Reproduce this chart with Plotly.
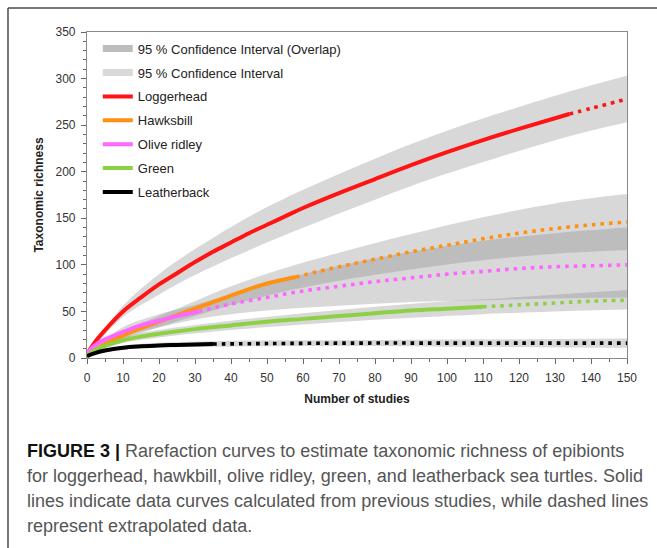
import plotly.graph_objects as go

# ---------------- data ----------------
log_x = [0, 2, 5, 10, 15, 20, 25, 30, 35, 40, 45, 50, 55, 60, 70, 80, 90, 100, 110, 120, 134]
log_y = [4, 16, 30, 50, 65, 79, 91, 103, 114, 124, 134, 143, 152, 161, 177, 192, 207, 221, 234, 246, 262]
log_ex_x = [134, 140, 150]
log_ex_y = [262, 268, 278]
log_ci_x = [0, 10, 20, 30, 50, 80, 100, 134, 150]
log_ci_hi = [4, 56, 90, 117, 162, 214, 244, 286, 303]
log_ci_lo = [4, 44, 68, 89, 124, 170, 198, 238, 253]

hawk_x = [0, 2, 5, 10, 15, 20, 25, 30, 35, 40, 45, 50, 58]
hawk_y = [3, 8, 15, 24, 32, 39, 46, 53, 60, 67, 74, 80, 87]
hawk_ex_x = [58, 70, 80, 90, 100, 110, 120, 130, 140, 150]
hawk_ex_y = [87, 98, 106, 114, 121, 128, 134, 139, 143, 146]
hawk_ci_x = [0, 10, 20, 30, 40, 58, 70, 90, 110, 130, 150]
hawk_ci_hi = [3, 28, 45, 61, 77, 100, 113, 133, 151, 166, 176]
hawk_ci_lo = [3, 20, 33, 45, 57, 74, 83, 95, 105, 112, 116]

olive_x = [0, 2, 5, 10, 15, 20, 25, 31]
olive_y = [5, 13, 20, 28, 35, 40, 45, 50]
olive_ex_x = [31, 40, 50, 60, 70, 80, 90, 100, 110, 120, 130, 140, 150]
olive_ex_y = [50, 58, 65, 72, 77, 82, 86, 90, 93, 96, 98, 99, 100]
olive_ci_x = [0, 10, 20, 31, 50, 70, 90, 110, 130, 150]
olive_ci_hi = [5, 33, 47, 58, 80, 99, 114, 126, 134, 140]
olive_ci_lo = [5, 23, 33, 42, 51, 56, 60, 62, 64, 65]

green_x = [0, 2, 5, 10, 15, 20, 30, 40, 50, 60, 70, 80, 90, 100, 110]
green_y = [3, 8, 13, 19, 23, 26, 31, 35, 39, 42, 45, 48, 51, 53, 55]
green_ex_x = [110, 120, 130, 140, 150]
green_ex_y = [55, 57, 59, 61, 62]
green_ci_x = [0, 10, 20, 40, 60, 80, 100, 110, 130, 150]
green_ci_hi = [3, 22, 30, 40, 48, 55, 61, 63, 68, 73]
green_ci_lo = [3, 16, 22, 30, 36, 41, 45, 47, 50, 52]

leath_x = [0, 2, 5, 10, 15, 20, 25, 30, 35]
leath_y = [2, 5, 8, 11, 12.5, 13.5, 14, 14.5, 15]
leath_ex_x = [35, 50, 75, 100, 150]
leath_ex_y = [15, 15.5, 16, 16, 16]
leath_ci_x = [0, 10, 35, 70, 110, 150]
leath_ci_hi = [2, 13, 18, 19, 20, 21]
leath_ci_lo = [2, 9, 12, 13, 12, 11]

x_ticks = list(range(0, 151, 10))
y_ticks = list(range(0, 351, 50))

caption_lines = [
    "<b style='color:#111'>FIGURE 3 |</b> Rarefaction curves to estimate taxonomic richness of epibionts",
    "for loggerhead, hawkbill, olive ridley, green, and leatherback sea turtles. Solid",
    "lines indicate data curves calculated from previous studies, while dashed lines",
    "represent extrapolated data.",
]

# ---------------- styling ----------------
BAND = "rgba(135,135,135,0.32)"
series = [
    ("Loggerhead", "#ff1414", log_x, log_y, log_ex_x, log_ex_y, log_ci_x, log_ci_lo, log_ci_hi),
    ("Hawksbill", "#ff9012", hawk_x, hawk_y, hawk_ex_x, hawk_ex_y, hawk_ci_x, hawk_ci_lo, hawk_ci_hi),
    ("Olive ridley", "#ff66ff", olive_x, olive_y, olive_ex_x, olive_ex_y, olive_ci_x, olive_ci_lo, olive_ci_hi),
    ("Green", "#8dd044", green_x, green_y, green_ex_x, green_ex_y, green_ci_x, green_ci_lo, green_ci_hi),
    ("Leatherback", "#000000", leath_x, leath_y, leath_ex_x, leath_ex_y, leath_ci_x, leath_ci_lo, leath_ci_hi),
]

fig = go.Figure()

# legend-only entries for the bands
fig.add_trace(go.Scatter(x=[None], y=[None], mode="lines", name="95 % Confidence Interval (Overlap)",
                         line=dict(color="#bdbdbd", width=7), legendgroup="g0"))
fig.add_trace(go.Scatter(x=[None], y=[None], mode="lines", name="95 % Confidence Interval",
                         line=dict(color="#d9d9d9", width=7), legendgroup="g1"))

# confidence bands
for i, (name, col, sx, sy, ex, ey, cx, clo, chi) in enumerate(series):
    fig.add_trace(go.Scatter(x=cx, y=clo, mode="lines", line=dict(width=0, shape="spline"),
                             showlegend=False, hoverinfo="skip"))
    fig.add_trace(go.Scatter(x=cx, y=chi, mode="lines", line=dict(width=0, shape="spline"),
                             fill="tonexty", fillcolor=BAND, showlegend=False, hoverinfo="skip"))

# curves
for i, (name, col, sx, sy, ex, ey, cx, clo, chi) in enumerate(series):
    fig.add_trace(go.Scatter(x=ex, y=ey, mode="lines", showlegend=False,
                             line=dict(color=col, width=3.6, dash="3.6px,5px", shape="spline")))
    fig.add_trace(go.Scatter(x=sx, y=sy, mode="lines", name=name, legendgroup="s%d" % i,
                             line=dict(color=col, width=4, shape="spline")))

axis_common = dict(
    showline=True, linecolor="#8a8a8a", linewidth=1.2, mirror=True,
    ticks="outside", ticklen=5, tickcolor="#666", tickwidth=1,
    showgrid=False, zeroline=False, ticklabelstandoff=3,
    tickfont=dict(family="Liberation Sans, Arial", size=12, color="#333"),
)

fig.update_xaxes(range=[0, 150], tickvals=x_ticks, **axis_common,
                 minor=dict(ticks="outside", ticklen=3, dtick=5, tickcolor="#666"),
                 title=dict(text="<b>Number of studies</b>", standoff=11,
                            font=dict(family="Liberation Sans, Arial", size=12, color="#222")))
fig.update_yaxes(range=[0, 350], tickvals=y_ticks, **axis_common,
                 minor=dict(ticks="outside", ticklen=3, dtick=10, tickcolor="#666"),
                 title=dict(text="<b>Taxonomic richness</b>", standoff=9,
                            font=dict(family="Liberation Sans, Arial", size=12, color="#222")))

# frame of the figure (left + top)
fig.add_shape(type="line", xref="paper", yref="paper", x0=-0.1463, x1=-0.1463, y0=-0.7, y1=1.0736,
              line=dict(color="#4a4a4a", width=1.5))
fig.add_shape(type="line", xref="paper", yref="paper", x0=-0.1463, x1=1.2, y0=1.0736, y1=1.0736,
              line=dict(color="#4a4a4a", width=1.5))

cap_y = [451, 476, 501, 526]
for txt, py in zip(caption_lines, cap_y):
    fig.add_annotation(xref="paper", yref="paper", x=(25 - 87) / 540, y=(358 - py) / 326,
                       xanchor="left", yanchor="middle", showarrow=False, text=txt, align="left",
                       font=dict(family="Liberation Sans, Arial", size=18, color="#555555"))

fig.update_layout(
    width=657, height=548,
    margin=dict(l=87, r=30, t=32, b=190),
    paper_bgcolor="white", plot_bgcolor="white",
    showlegend=True,
    legend=dict(x=0.02, y=0.995, xanchor="left", yanchor="top", bgcolor="rgba(0,0,0,0)",
                font=dict(family="Liberation Sans, Arial", size=13, color="#222"),
                itemwidth=30, tracegroupgap=4, traceorder="grouped"),
    font=dict(family="Liberation Sans, Arial"),
)

fig.write_html("out.html")
